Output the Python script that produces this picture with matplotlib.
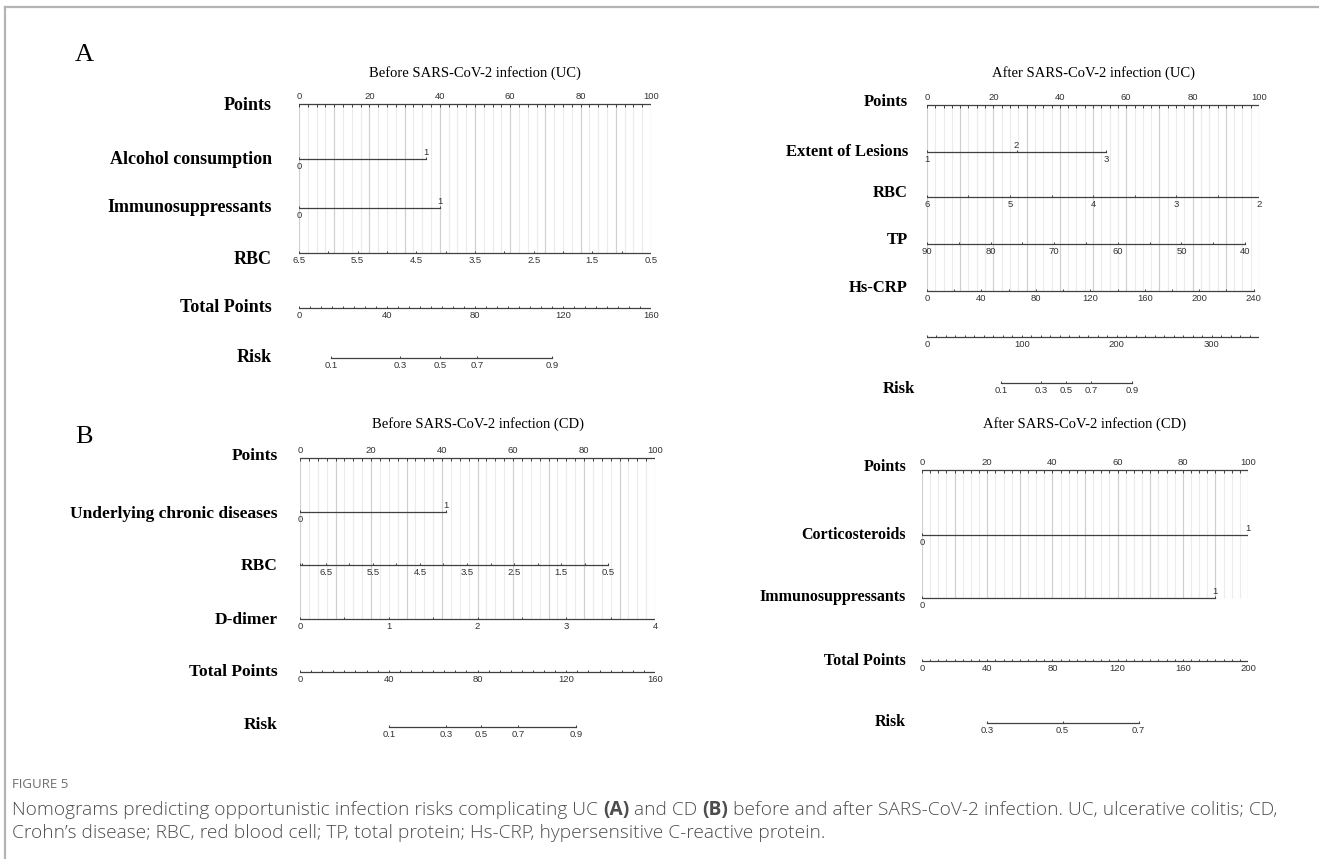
import numpy as np
import matplotlib
matplotlib.use('Agg')
from matplotlib import pyplot as plt
from matplotlib.lines import Line2D

W, H = 1319, 859

# ---------------- values ----------------
# A / before infection (UC)
ucb_alcohol = [0, 36]            # points at level 0, 1
ucb_immuno = [0, 40]
ucb_rbc_ends = [6.5, 0.5]        # RBC at 0 and 100 points
ucb_rbc_labels = [6.5, 5.5, 4.5, 3.5, 2.5, 1.5, 0.5]
ucb_total_max = 160
ucb_total_labels = [0, 40, 80, 120, 160]
ucb_risk = [0.1, 0.3, 0.5, 0.7, 0.9]
ucb_risk_tp = [14.5, 46, 64, 81, 115]

# A / after infection (UC)
uca_extent_levels = ['1', '2', '3']
uca_extent = [0, 27, 54]
uca_rbc_ends = [6, 2]
uca_rbc_labels = [6, 5, 4, 3, 2]
uca_tp_ends = [90, 40]
uca_tp_end_pts = 95.8
uca_tp_labels = [90, 80, 70, 60, 50, 40]
uca_crp_ends = [0, 240]
uca_crp_end_pts = 98.4
uca_crp_labels = [0, 40, 80, 120, 160, 200, 240]
uca_total_max = 350
uca_total_labels = [0, 100, 200, 300]
uca_risk = [0.1, 0.3, 0.5, 0.7, 0.9]
uca_risk_tp = [78.5, 120.7, 146.9, 172.9, 216]

# B / before infection (CD)
cdb_chronic = [0, 41]
cdb_rbc_ends = [7.05, 0.5]
cdb_rbc_end_pts = 86.8
cdb_rbc_labels = [6.5, 5.5, 4.5, 3.5, 2.5, 1.5, 0.5]
cdb_ddimer_ends = [0, 4]
cdb_ddimer_labels = [0, 1, 2, 3, 4]
cdb_total_max = 160
cdb_total_labels = [0, 40, 80, 120, 160]
cdb_risk = [0.1, 0.3, 0.5, 0.7, 0.9]
cdb_risk_tp = [40, 66, 81.6, 98.3, 124.6]

# B / after infection (CD)
cda_cortico = [0, 100]
cda_immuno = [0, 90]
cda_total_max = 200
cda_total_labels = [0, 40, 80, 120, 160, 200]
cda_risk = [0.3, 0.5, 0.7]
cda_risk_tp = [39.8, 86.2, 132.9]

points_labels = [0, 20, 40, 60, 80, 100]

# ---------------- drawing ----------------
LINE = '#404040'
TICKFONT = dict(family=['Liberation Sans', 'DejaVu Sans'], size=6.8, color='#333333')
SERIF = ['Liberation Serif', 'DejaVu Serif']

fig = plt.figure(figsize=(W / 100, H / 100), dpi=100)
fig.add_artist(Line2D([5 / W, 5 / W], [0, 1 - 7 / H], color='#b4b4b4', lw=1.6))
fig.add_artist(Line2D([5 / W, 1], [1 - 7 / H, 1 - 7 / H], color='#b4b4b4', lw=1.6))


def lin(v, v0, v1, p1, p0=0.0):
    v = np.asarray(v, dtype=float)
    return p0 + (v - v0) / (v1 - v0) * (p1 - p0)


def fmt(v):
    return f'{v:g}'


def panel(x0, x1):
    ax = fig.add_axes([x0 / W, 0, (x1 - x0) / W, 1])
    ax.set_xlim(0, 100)
    ax.set_ylim(H, 0)
    ax.axis('off')
    ax.px = 100 / (x1 - x0)   # points per pixel
    return ax


def row_label(ax, y, text, right_px, size):
    ax.text(-right_px * ax.px, y, text, ha='right', va='center', fontsize=size,
            fontweight='bold', family=SERIF, clip_on=False)


def grid(ax, y0, y1):
    ax.vlines(np.arange(0, 100.01, 2.5), y0, y1, color='#ebebeb', lw=0.8, zorder=0)
    ax.vlines(np.arange(0, 100.01, 10), y0, y1, color='#cfcfcf', lw=0.8, zorder=0)


def points_axis(ax, y):
    ax.plot([0, 100], [y, y], color=LINE, lw=0.9)
    ax.vlines(np.arange(0, 100.01, 2.5), y, y + 2.5, color=LINE, lw=0.7)
    for v in points_labels:
        ax.text(v, y - 3, fmt(v), ha='center', va='bottom', **TICKFONT)


def scale(ax, y, tick_pts, label_pts, labels, tick_len=2.5):
    ax.plot([min(tick_pts), max(tick_pts)], [y, y], color=LINE, lw=0.9)
    ax.vlines(tick_pts, y - tick_len, y, color=LINE, lw=0.7)
    for p, t in zip(label_pts, labels):
        ax.text(p, y + 3, t, ha='center', va='top', **TICKFONT)


def binary(ax, y, pts, labels=('0', '1')):
    ax.plot([pts[0], pts[-1]], [y, y], color=LINE, lw=0.9)
    ax.vlines(pts, y - 2.5, y, color=LINE, lw=0.7)
    for i, (p, t) in enumerate(zip(pts, labels)):
        if i % 2 == 0:
            ax.text(p, y + 3, t, ha='center', va='top', **TICKFONT)
        else:
            ax.text(p, y - 2, t, ha='center', va='bottom', **TICKFONT)


def title(ax, y, text):
    ax.text(50, y, text, ha='center', va='center', fontsize=10.5, family=SERIF)


# ---- A left ----
ax = panel(299, 651)
title(ax, 73, 'Before SARS-CoV-2 infection (UC)')
grid(ax, 104, 253)
points_axis(ax, 104)
row_label(ax, 106, 'Points', 27, 13)
binary(ax, 159, ucb_alcohol)
row_label(ax, 159, 'Alcohol consumption', 27, 13)
binary(ax, 208, ucb_immuno)
row_label(ax, 208, 'Immunosuppressants', 27, 13)
rbc_t = np.arange(6.5, 0.49, -0.5)
scale(ax, 253, lin(rbc_t, *ucb_rbc_ends, 100), lin(ucb_rbc_labels, *ucb_rbc_ends, 100),
      [fmt(v) for v in ucb_rbc_labels])
row_label(ax, 259, 'RBC', 27, 13)
tot_t = np.arange(0, ucb_total_max + 0.1, 5)
scale(ax, 308, lin(tot_t, 0, ucb_total_max, 100), lin(ucb_total_labels, 0, ucb_total_max, 100),
      [fmt(v) for v in ucb_total_labels])
row_label(ax, 308, 'Total Points', 27, 13)
rp = lin(ucb_risk_tp, 0, ucb_total_max, 100)
scale(ax, 358, rp, rp, [fmt(v) for v in ucb_risk])
row_label(ax, 357, 'Risk', 27, 13)
fig.text(75 / W, 1 - 55 / H, 'A', fontsize=19, family=SERIF, ha='left', va='center')

# ---- A right ----
ax = panel(927, 1259)
title(ax, 73, 'After SARS-CoV-2 infection (UC)')
grid(ax, 105, 291)
points_axis(ax, 105)
row_label(ax, 102, 'Points', 19, 12)
binary(ax, 152, uca_extent, uca_extent_levels)
row_label(ax, 152, 'Extent of Lesions', 19, 12)
t = np.arange(6, 1.99, -0.5)
scale(ax, 197, lin(t, *uca_rbc_ends, 100), lin(uca_rbc_labels, *uca_rbc_ends, 100),
      [fmt(v) for v in uca_rbc_labels])
row_label(ax, 193, 'RBC', 19, 12)
t = np.arange(90, 39.9, -5)
scale(ax, 244, lin(t, *uca_tp_ends, uca_tp_end_pts), lin(uca_tp_labels, *uca_tp_ends, uca_tp_end_pts),
      [fmt(v) for v in uca_tp_labels])
row_label(ax, 240, 'TP', 19, 12)
t = np.arange(0, 240.1, 20)
scale(ax, 291, lin(t, *uca_crp_ends, uca_crp_end_pts), lin(uca_crp_labels, *uca_crp_ends, uca_crp_end_pts),
      [fmt(v) for v in uca_crp_labels])
row_label(ax, 288, 'Hs-CRP', 19, 12)
t = np.arange(0, uca_total_max + 0.1, 10)
scale(ax, 337, lin(t, 0, uca_total_max, 100), lin(uca_total_labels, 0, uca_total_max, 100),
      [fmt(v) for v in uca_total_labels])
rp = lin(uca_risk_tp, 0, uca_total_max, 100)
scale(ax, 383, rp, rp, [fmt(v) for v in uca_risk])
row_label(ax, 389, 'Risk', 12, 12)

# ---- B left ----
ax = panel(300, 655)
title(ax, 424, 'Before SARS-CoV-2 infection (CD)')
grid(ax, 458, 619)
points_axis(ax, 458)
row_label(ax, 456, 'Points', 22, 12.5)
binary(ax, 512, cdb_chronic)
row_label(ax, 514, 'Underlying chronic diseases', 22, 12.5)
t = np.arange(7.0, 0.49, -0.5)
scale(ax, 565, np.concatenate([[0], lin(t, *cdb_rbc_ends, cdb_rbc_end_pts)]),
      lin(cdb_rbc_labels, *cdb_rbc_ends, cdb_rbc_end_pts), [fmt(v) for v in cdb_rbc_labels])
row_label(ax, 566, 'RBC', 22, 12.5)
t = np.arange(0, 4.01, 0.5)
scale(ax, 619, lin(t, *cdb_ddimer_ends, 100), lin(cdb_ddimer_labels, *cdb_ddimer_ends, 100),
      [fmt(v) for v in cdb_ddimer_labels])
row_label(ax, 620, 'D-dimer', 22, 12.5)
t = np.arange(0, cdb_total_max + 0.1, 5)
scale(ax, 672, lin(t, 0, cdb_total_max, 100), lin(cdb_total_labels, 0, cdb_total_max, 100),
      [fmt(v) for v in cdb_total_labels])
row_label(ax, 672, 'Total Points', 22, 12.5)
rp = lin(cdb_risk_tp, 0, cdb_total_max, 100)
scale(ax, 727, rp, rp, [fmt(v) for v in cdb_risk])
row_label(ax, 725, 'Risk', 22, 12.5)
fig.text(75 / W, 1 - 437 / H, 'B', fontsize=19, family=SERIF, ha='left', va='center')

# ---- B right ----
ax = panel(922, 1248)
title(ax, 424, 'After SARS-CoV-2 infection (CD)')
grid(ax, 470, 598)
points_axis(ax, 470)
row_label(ax, 467, 'Points', 16, 11.5)
binary(ax, 535, cda_cortico)
row_label(ax, 535, 'Corticosteroids', 16, 11.5)
binary(ax, 598, cda_immuno)
row_label(ax, 597, 'Immunosuppressants', 16, 11.5)
t = np.arange(0, cda_total_max + 0.1, 5)
scale(ax, 661, lin(t, 0, cda_total_max, 100), lin(cda_total_labels, 0, cda_total_max, 100),
      [fmt(v) for v in cda_total_labels])
row_label(ax, 661, 'Total Points', 16, 11.5)
rp = lin(cda_risk_tp, 0, cda_total_max, 100)
scale(ax, 723, rp, rp, [fmt(v) for v in cda_risk])
row_label(ax, 722, 'Risk', 16, 11.5)

# ---- caption ----
CAP = dict(family=['Open Sans', 'DejaVu Sans'], color='#4d4d4d')
fig.text(12 / W, 1 - 785 / H, 'FIGURE 5', fontsize=9.5, va='center', ha='left',
         family=['Open Sans', 'DejaVu Sans'], color='#6e6e6e')
renderer = fig.canvas.get_renderer()


def rich(x, y, pieces, size=13.8):
    for txt, bold in pieces:
        t = fig.text(x / W, 1 - y / H, txt, fontsize=size, va='center', ha='left',
                     fontweight='bold' if bold else 'light', **CAP)
        x += t.get_window_extent(renderer).width


rich(12, 810, [('Nomograms predicting opportunistic infection risks complicating UC ', False),
               ('(A)', True), (' and CD ', False), ('(B)', True),
               (' before and after SARS-CoV-2 infection. UC, ulcerative colitis; CD,', False)])
rich(12, 833, [('Crohn\u2019s disease; RBC, red blood cell; TP, total protein; Hs-CRP, hypersensitive C-reactive protein.', False)])

fig.savefig('out.png', dpi=100)
